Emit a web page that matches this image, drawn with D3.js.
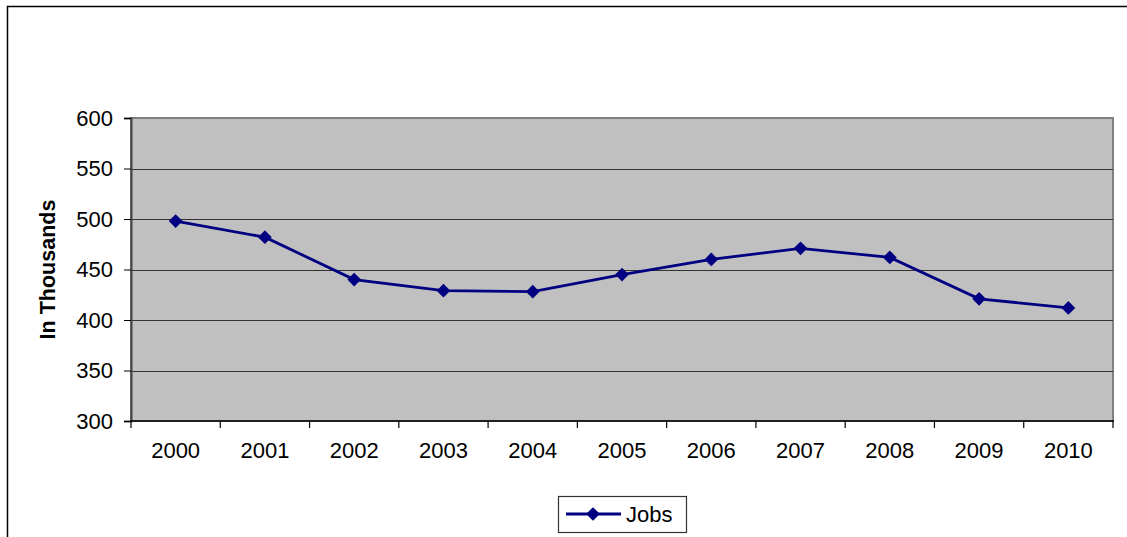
<!DOCTYPE html>
<html lang="en">
<head>
    <meta charset="UTF-8">
    <title>Jobs</title>
    <script src="https://d3js.org/d3.v7.min.js"></script>
    <style>
        body { margin: 0; background: #fff; }
        svg { font-family: "Liberation Sans", Arial, sans-serif; }
    </style>
</head>
<body>
    <div id="chart"></div>
    <script>
        // data
        var years = ["2000", "2001", "2002", "2003", "2004", "2005", "2006", "2007", "2008", "2009", "2010"];
        var jobs = [498, 482, 440, 429, 428, 445, 460, 471, 462, 421, 412];
        var yTicks = [300, 350, 400, 450, 500, 550, 600];
        var seriesName = "Jobs";

        var width = 1127, height = 537;
        var plotLeft = 131, plotRight = 1113, plotTop = 118, plotBottom = 421;

        var svg = d3.select("#chart").append("svg")
            .attr("width", width)
            .attr("height", height);

        // outer frame
        svg.append("rect")
            .attr("x", 7.5).attr("y", 6.5)
            .attr("width", width + 10).attr("height", height + 10)
            .attr("fill", "none").attr("stroke", "#000").attr("stroke-width", 1.5);

        var x = d3.scaleBand().domain(years).range([plotLeft, plotRight]);
        var y = d3.scaleLinear().domain([300, 600]).range([plotBottom, plotTop]);

        // plot area
        svg.append("rect")
            .attr("x", plotLeft).attr("y", plotTop)
            .attr("width", plotRight - plotLeft).attr("height", plotBottom - plotTop)
            .attr("fill", "#c0c0c0")
            .attr("stroke", "#808080").attr("stroke-width", 2);

        // gridlines
        svg.append("g").selectAll("line")
            .data(yTicks.filter(function(d) { return d > 300 && d < 600; }))
            .enter().append("line")
            .attr("x1", plotLeft).attr("x2", plotRight)
            .attr("y1", function(d) { return Math.round(y(d)) + 0.5; })
            .attr("y2", function(d) { return Math.round(y(d)) + 0.5; })
            .attr("stroke", "#333").attr("stroke-width", 1.2);

        // y axis
        var yAxis = svg.append("g")
            .attr("transform", "translate(" + plotLeft + ",0)")
            .call(d3.axisLeft(y).tickValues(yTicks).tickSize(7).tickPadding(11));
        yAxis.select(".domain").attr("stroke", "#444").attr("stroke-width", 2);
        yAxis.selectAll(".tick line").attr("stroke", "#000");
        yAxis.selectAll("text").attr("font-size", 22).attr("fill", "#000")
            .attr("font-family", "Liberation Sans, Arial, sans-serif");

        // x axis, ticks on band edges
        var xAxis = svg.append("g")
            .attr("transform", "translate(0," + plotBottom + ")")
            .call(d3.axisBottom(x).tickSize(0).tickPadding(21));
        xAxis.select(".domain").remove();
        xAxis.selectAll("text").attr("font-size", 22).attr("fill", "#000")
            .attr("font-family", "Liberation Sans, Arial, sans-serif");
        svg.append("line")
            .attr("x1", plotLeft - 1).attr("x2", plotRight + 1)
            .attr("y1", plotBottom).attr("y2", plotBottom)
            .attr("stroke", "#000").attr("stroke-width", 1.5);
        svg.append("g").selectAll("line")
            .data(years.concat(["end"]))
            .enter().append("line")
            .attr("x1", function(d, i) { return plotLeft + i * x.bandwidth(); })
            .attr("x2", function(d, i) { return plotLeft + i * x.bandwidth(); })
            .attr("y1", plotBottom).attr("y2", plotBottom + 7)
            .attr("stroke", "#000").attr("stroke-width", 1.2);

        // y label
        svg.append("text")
            .attr("transform", "translate(55," + ((plotTop + plotBottom) / 2) + ") rotate(-90)")
            .attr("text-anchor", "middle")
            .attr("font-size", 21.5).attr("font-weight", "bold")
            .text("In Thousands");

        // series
        var line = d3.line()
            .x(function(d, i) { return x(years[i]) + x.bandwidth() / 2; })
            .y(function(d) { return y(d); });

        svg.append("path")
            .datum(jobs)
            .attr("d", line)
            .attr("fill", "none")
            .attr("stroke", "#000080").attr("stroke-width", 2.8);

        var diamond = d3.symbol().type(d3.symbolDiamond2).size(120);
        svg.append("g").selectAll("path")
            .data(jobs)
            .enter().append("path")
            .attr("d", diamond)
            .attr("transform", function(d, i) {
                return "translate(" + (x(years[i]) + x.bandwidth() / 2) + "," + y(d) + ")";
            })
            .attr("fill", "#000080");

        // legend
        var lg = svg.append("g");
        lg.append("rect")
            .attr("x", 558.5).attr("y", 496.5).attr("width", 128).attr("height", 36)
            .attr("fill", "#fff").attr("stroke", "#333").attr("stroke-width", 1.2);
        lg.append("line")
            .attr("x1", 566).attr("x2", 621).attr("y1", 514).attr("y2", 514)
            .attr("stroke", "#000080").attr("stroke-width", 2.8);
        lg.append("path")
            .attr("d", diamond)
            .attr("transform", "translate(593,514)")
            .attr("fill", "#000080");
        lg.append("text")
            .attr("x", 626).attr("y", 522)
            .attr("font-size", 22)
            .text(seriesName);
    </script>
</body>
</html>
